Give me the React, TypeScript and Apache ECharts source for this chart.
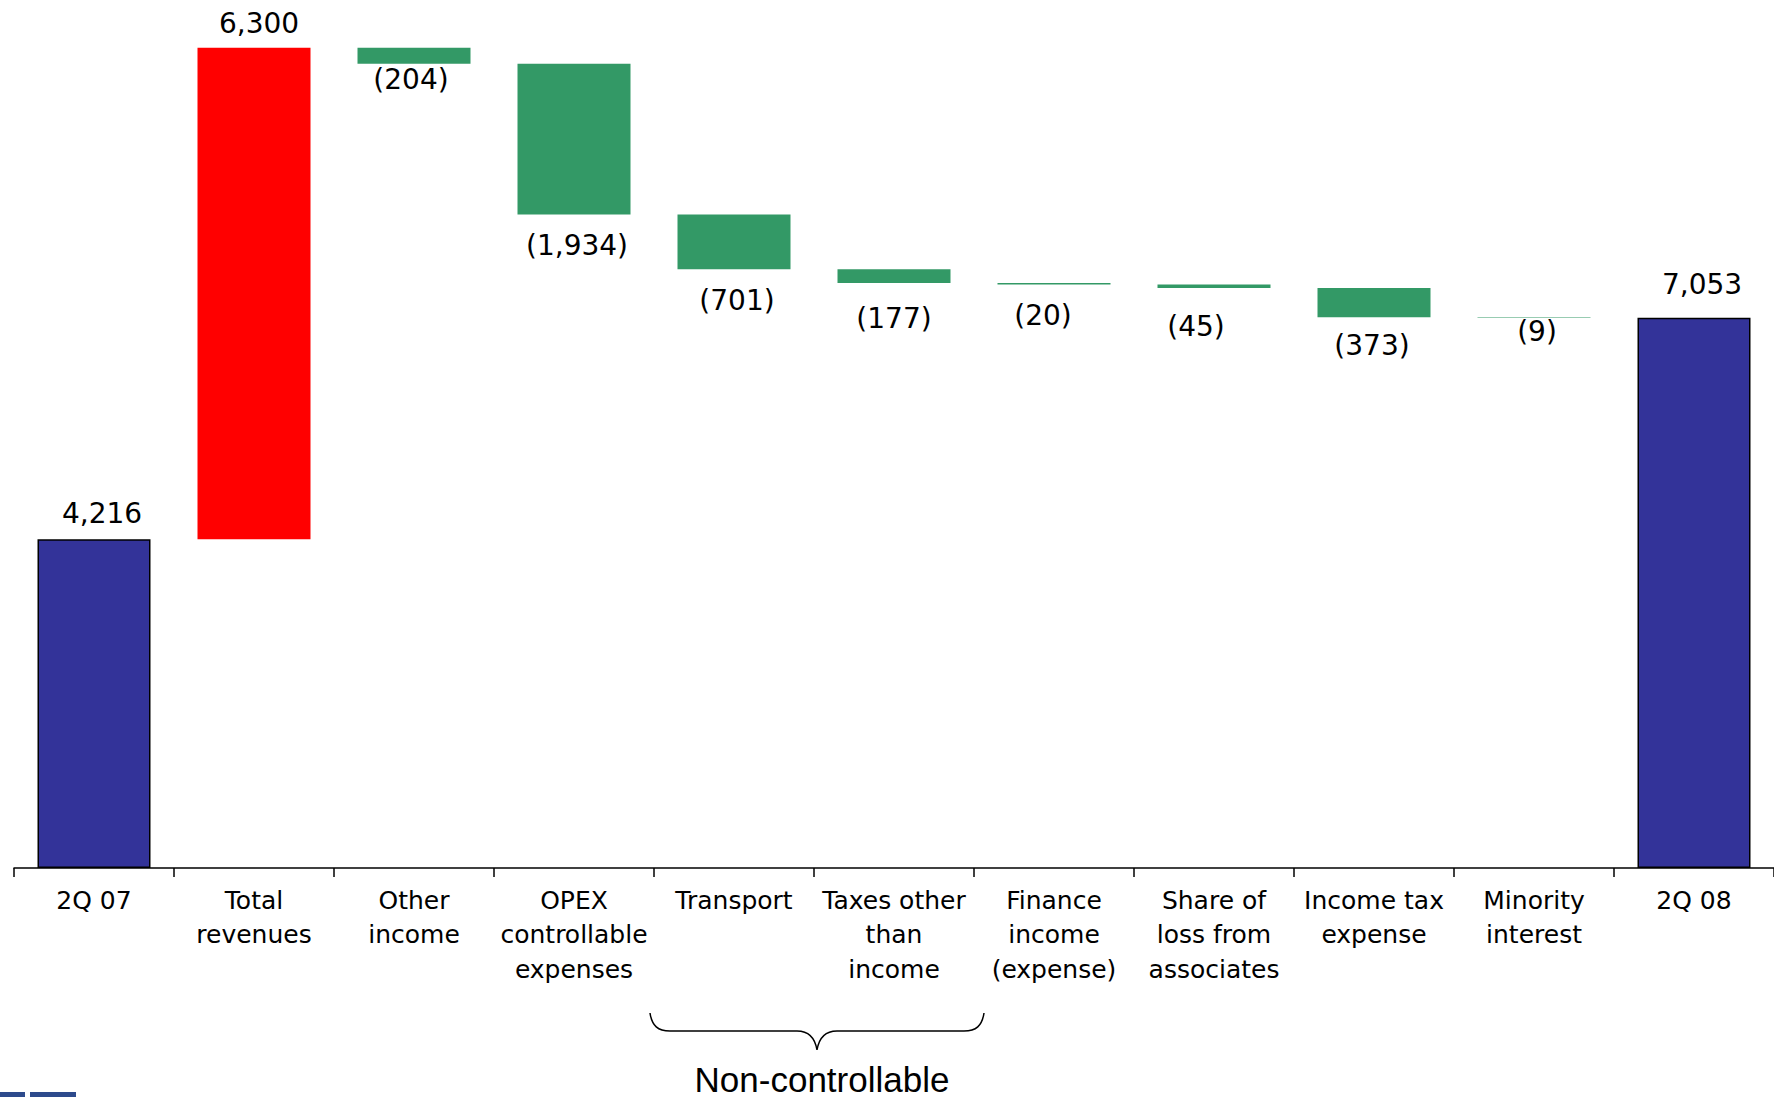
import React, { useEffect, useRef } from "react";
import * as echarts from "echarts";

// ---- data ----
const categories = [
  "2Q 07",
  "Total\nrevenues",
  "Other\nincome",
  "OPEX\ncontrollable\nexpenses",
  "Transport",
  "Taxes other\nthan\nincome",
  "Finance\nincome\n(expense)",
  "Share of\nloss from\nassociates",
  "Income tax\nexpense",
  "Minority\ninterest",
  "2Q 08",
];
const startValue = 4216;
const changes = [6300, -204, -1934, -701, -177, -20, -45, -373, -9];
const endValue = 7053;

// label nudges (layout only), [dx, dy] in px
const labelShift: number[][] = [
  [8, -12], [5, -10], [-3, 2], [3, 17], [3, 17], [0, 21],
  [-11, 17], [-18, 24], [-2, 14], [3, 0], [8, -19],
];

const BLUE = "#333399";
const RED = "#ff0000";
const GREEN = "#339966";

const braceD =
  "M650,1013 C652,1026 658,1031 670,1031 L797,1031 C809,1031 815,1038 817,1050 C819,1038 825,1031 837,1031 L964,1031 C976,1031 982,1026 984,1013";
echarts.graphic.registerShape("brace", echarts.graphic.extendPath(braceD, {}));

function buildWaterfall() {
  const base: number[] = [];
  const vals: number[] = [];
  const kinds: string[] = [];
  base.push(0);
  vals.push(startValue);
  kinds.push("total");
  let running = startValue;
  for (const c of changes) {
    if (c >= 0) {
      base.push(running);
      vals.push(c);
      kinds.push("inc");
      running += c;
    } else {
      running += c;
      base.push(running);
      vals.push(-c);
      kinds.push("dec");
    }
  }
  base.push(0);
  vals.push(endValue);
  kinds.push("total");
  return { base, vals, kinds };
}

export default function App() {
  const ref = useRef<HTMLDivElement>(null);
  useEffect(() => {
    if (!ref.current) return;
    const chart = echarts.init(ref.current, undefined, { renderer: "svg" });
    const { base, vals, kinds } = buildWaterfall();
    const fmt = (v: number) => v.toLocaleString("en-US");
    const valueData = vals.map((v, i) => {
      const k = kinds[i];
      const color = k === "total" ? BLUE : k === "inc" ? RED : GREEN;
      return {
        value: v,
        itemStyle: {
          color,
          borderColor: k === "total" ? "#000" : color,
          borderWidth: k === "total" ? 1.5 : 0,
        },
        label: {
          show: true,
          position: k === "dec" ? "bottom" : "top",
          distance: 0,
          offset: labelShift[i],
          formatter: k === "dec" ? `(${fmt(v)})` : fmt(v),
        },
      };
    });
    chart.setOption({
      animation: false,
      grid: { left: 14, right: -5, top: 10, bottom: 229, containLabel: false },
      xAxis: {
        type: "category",
        data: categories,
        axisLine: { show: true, lineStyle: { color: "#000", width: 1.5 } },
        axisTick: { show: true, length: 9, lineStyle: { color: "#000", width: 1.5 } },
        axisLabel: {
          interval: 0,
          margin: 15,
          color: "#000",
          fontFamily: "DejaVu Sans",
          fontSize: 25,
          lineHeight: 34.5,
        },
      },
      yAxis: { type: "value", min: 0, max: 11000, show: false, splitLine: { show: false } },
      series: [
        {
          type: "bar",
          stack: "w",
          data: base,
          barWidth: 113,
          silent: true,
          itemStyle: { color: "transparent" },
        },
        {
          type: "bar",
          stack: "w",
          data: valueData,
          barWidth: 113,
          label: {
            color: "#000",
            fontFamily: "DejaVu Sans",
            fontSize: 28,
          },
        },
      ],
      graphic: [
        {
          type: "brace",
          style: { fill: "none", stroke: "#000", lineWidth: 1.5 },
        },
        {
          type: "text",
          x: 822,
          y: 1079,
          style: {
            text: "Non-controllable",
            font: "35px 'Liberation Sans'",
            fill: "#000",
            align: "center",
            verticalAlign: "middle",
          },
        },
        { type: "rect", shape: { x: 0, y: 1092, width: 25, height: 5 }, style: { fill: "#2d4a8c" } },
        { type: "rect", shape: { x: 30, y: 1092, width: 46, height: 5 }, style: { fill: "#2d4a8c" } },
      ],
    });
    return () => chart.dispose();
  }, []);
  return (
    <div
      ref={ref}
      style={{ position: "absolute", left: 0, top: 0, width: 1774, height: 1097, background: "#fff" }}
    />
  );
}
